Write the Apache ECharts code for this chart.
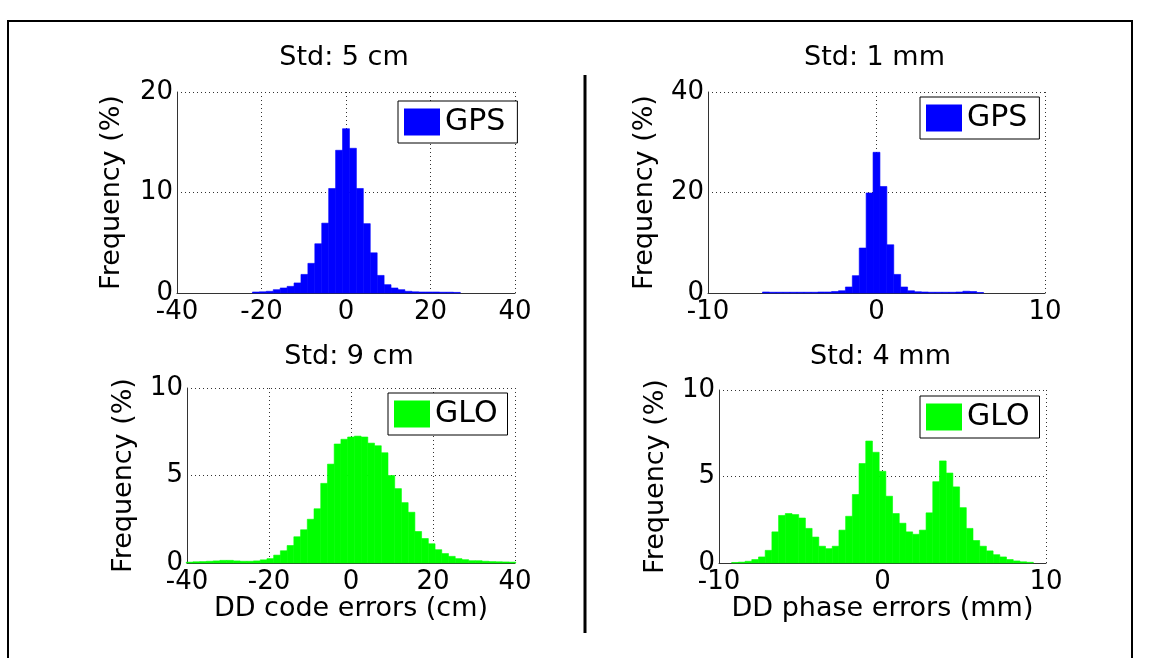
<!DOCTYPE html>
<html>
<head>
<meta charset="utf-8">
<style>
  html, body { margin: 0; padding: 0; background: #fff; }
  #main { width: 1149px; height: 658px; }
</style>
<script src="https://cdn.jsdelivr.net/npm/echarts@6/dist/echarts.min.js"></script>
</head>
<body>
<div id="main"></div>
<script>
var dom = document.getElementById('main');
var myChart = echarts.init(dom, null, { renderer: 'canvas' });

const FONT = 'DejaVu Sans';

// histogram bin widths (axis units)
const codeBin = 1.64;   // cm
const phaseBin = 0.41;  // mm

// GPS, DD code errors (cm) - first bin centre, then frequency (%) per bin
const gpsCodeStart = -21.32;
const gpsCodeFreq = [0.1, 0.12, 0.17, 0.33, 0.5, 0.66, 1.0, 1.85, 2.95, 4.9, 6.95, 10.4, 14.2, 16.35,
  14.4, 10.4, 6.9, 4.0, 1.75, 0.83, 0.5, 0.33, 0.17, 0.12, 0.1, 0.1, 0.1, 0.08, 0.08, 0.06];

// GPS, DD phase errors (mm)
const gpsPhaseStart = -6.56;
const gpsPhaseFreq = [0.2, 0.15, 0.15, 0.15, 0.15, 0.15, 0.15, 0.15, 0.2, 0.2, 0.3,
  0.45, 1.2, 3.45, 8.95, 19.9, 28.0, 21.2, 9.6, 3.7, 1.2, 0.45,
  0.25, 0.2, 0.15, 0.15, 0.15, 0.15, 0.2, 0.35, 0.3, 0.1];

// GLONASS, DD code errors (cm)
const gloCodeStart = -39.36;
const gloCodeFreq = [0.05, 0.07, 0.08, 0.1, 0.12, 0.15, 0.15, 0.12, 0.1, 0.1, 0.12,
  0.18, 0.25, 0.45, 0.7, 1.0, 1.5, 1.9, 2.5, 3.1, 4.55, 5.65, 6.8, 7.07, 7.2, 7.25, 7.2,
  6.85, 6.7, 6.3, 5.0, 4.25, 3.45, 2.9, 1.8, 1.4, 1.1, 0.76, 0.54, 0.38, 0.25, 0.19,
  0.13, 0.13, 0.1, 0.08, 0.07, 0.06, 0.05];

// GLONASS, DD phase errors (mm)
const gloPhaseStart = -9.02;
const gloPhaseFreq = [0.03, 0.05, 0.1, 0.2, 0.35, 0.73, 1.8, 2.75, 2.86, 2.8, 2.6, 2.0, 1.5,
  0.97, 0.83, 0.97, 1.9, 2.7, 3.96, 5.75, 7.05, 6.4, 5.3, 3.86, 2.86, 2.3, 1.8, 1.66, 1.9,
  2.9, 4.7, 5.9, 5.2, 4.4, 3.2, 2.0, 1.3, 0.97, 0.7, 0.48, 0.35, 0.2, 0.12, 0.07, 0.04];

// panel titles and axis ranges
const titles = ['Std: 5 cm', 'Std: 1 mm', 'Std: 9 cm', 'Std: 4 mm'];
const xRanges = [[-40, 40, 20], [-10, 10, 10], [-40, 40, 20], [-10, 10, 10]];
const yRanges = [[0, 20, 10], [0, 40, 20], [0, 10, 5], [0, 10, 5]];
const xNames = ['', '', 'DD code errors (cm)', 'DD phase errors (mm)'];

const grids = [
  { left: 177, top: 92, width: 338, height: 201 },
  { left: 708, top: 92, width: 337, height: 201 },
  { left: 187, top: 388, width: 328, height: 175 },
  { left: 719, top: 390, width: 327, height: 173 }
];

const gridLine = { type: [1, 3], color: '#333', width: 1 };

function histSeries(name, color, idx, start, bin, freq) {
  return {
    name: name,
    type: 'custom',
    xAxisIndex: idx,
    yAxisIndex: idx,
    itemStyle: { color: color },
    silent: true,
    data: freq.map((v, i) => [start + i * bin, v]),
    renderItem: function (params, api) {
      const c = api.value(0);
      const a = api.coord([c - bin / 2, api.value(1)]);
      const b = api.coord([c + bin / 2, 0]);
      return {
        type: 'rect',
        shape: { x: a[0], y: a[1], width: b[0] - a[0], height: b[1] - a[1] },
        style: { fill: color, stroke: color, lineWidth: 0.6 }
      };
    }
  };
}

function legendAt(name, left, top, padRight) {
  return {
    data: [name],
    left: left,
    top: top,
    icon: 'rect',
    itemWidth: 36,
    itemHeight: 27,
    padding: [6, padRight, 6, 6],
    borderColor: '#000',
    borderWidth: 1,
    backgroundColor: '#fff',
    selectedMode: false,
    textStyle: { fontFamily: FONT, fontSize: 30, color: '#000', lineHeight: 28 }
  };
}

option = {
  animation: false,
  backgroundColor: '#fff',
  grid: grids,
  xAxis: xRanges.map((r, i) => ({
    type: 'value',
    gridIndex: i,
    min: r[0],
    max: r[1],
    interval: r[2],
    name: xNames[i],
    nameLocation: 'middle',
    nameGap: 30,
    nameTextStyle: { fontFamily: FONT, fontSize: 27, color: '#000' },
    axisLine: { show: true, onZero: false, lineStyle: { color: '#333', width: 1 } },
    axisTick: { show: false },
    axisLabel: { fontFamily: FONT, fontSize: 26, color: '#000', margin: 6, showMinLabel: true, showMaxLabel: true },
    splitLine: { show: true, lineStyle: gridLine }
  })),
  yAxis: yRanges.map((r, i) => ({
    type: 'value',
    gridIndex: i,
    min: r[0],
    max: r[1],
    interval: r[2],
    name: 'Frequency (%)',
    nameLocation: 'middle',
    nameGap: i === 0 ? 52 : 50,
    nameTextStyle: { fontFamily: FONT, fontSize: 27, color: '#000' },
    axisLine: { show: true, onZero: false, lineStyle: { color: '#333', width: 1 } },
    axisTick: { show: false },
    axisLabel: { fontFamily: FONT, fontSize: 26, color: '#000', margin: 4, showMinLabel: true, showMaxLabel: true },
    splitLine: { show: true, lineStyle: gridLine }
  })),
  legend: [
    legendAt('GPS', 398, 101, 12),
    legendAt('GPS', 920, 97, 12),
    legendAt('GLO', 388, 393, 10),
    legendAt('GLO', 920, 396, 10)
  ],
  series: [
    histSeries('GPS', '#0000ff', 0, gpsCodeStart, codeBin, gpsCodeFreq),
    histSeries('GPS', '#0000ff', 1, gpsPhaseStart, phaseBin, gpsPhaseFreq),
    histSeries('GLO', '#00ff00', 2, gloCodeStart, codeBin, gloCodeFreq),
    histSeries('GLO', '#00ff00', 3, gloPhaseStart, phaseBin, gloPhaseFreq)
  ],
  graphic: [
    // outer frame (bottom edge is off the page)
    { type: 'rect', silent: true, shape: { x: 8, y: 21, width: 1124, height: 700 },
      style: { fill: 'none', stroke: '#000', lineWidth: 2 } },
    // divider between code and phase panels
    { type: 'line', silent: true, shape: { x1: 585, y1: 75, x2: 585, y2: 633 },
      style: { stroke: '#000', lineWidth: 3 } }
  ].concat(titles.map((t, i) => ({
    type: 'text',
    silent: true,
    x: grids[i].left + grids[i].width / 2 - 2,
    y: i < 2 ? 58 : 357,
    style: { text: t, fontFamily: FONT, fontSize: 27, fill: '#000', align: 'center', verticalAlign: 'middle' }
  })))
};

if (option && typeof option === 'object') {
  myChart.setOption(option);
}

window.addEventListener('resize', myChart.resize);
</script>
</body>
</html>
